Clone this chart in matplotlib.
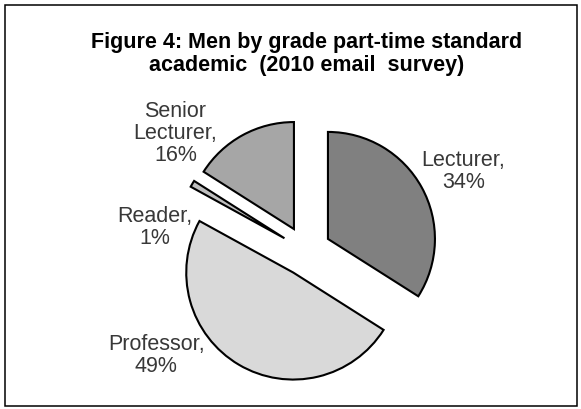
import matplotlib
matplotlib.use("Agg")
import matplotlib.pyplot as plt
from matplotlib.patches import Rectangle

plt.rcParams['font.family'] = ['Liberation Sans', 'DejaVu Sans']

# data
grades = ['Lecturer', 'Professor', 'Reader', 'Senior\nLecturer']
shares = [34, 49, 1, 16]
colors = ['#808080', '#d9d9d9', '#bfbfbf', '#a6a6a6']
title = 'Figure 4: Men by grade part-time standard\nacademic  (2010 email  survey)'

# label centres in axes data units (pie radius = 1)
label_pos = [(1.47, 0.74), (-1.40, -0.98), (-1.41, 0.22), (-1.22, 1.10)]


def draw():
    fig = plt.figure(figsize=(5.81, 4.09), dpi=100)
    ax = fig.add_axes([0, 0, 1, 1])

    labels = ['%s,\n%d%%' % (g, s) for g, s in zip(grades, shares)]
    wedges, texts = ax.pie(shares, labels=labels, colors=colors,
                           startangle=90, counterclock=False,
                           explode=[0.234] * len(shares), radius=1,
                           wedgeprops=dict(edgecolor='black', linewidth=1.5))

    # move the labels where the original has them
    for t, pos in zip(texts, label_pos):
        t.set_position(pos)
        t.set_ha('center')
        t.set_va('center')
        t.set_fontsize(15.5)
        t.set_color('#383838')
        t.set_linespacing(1.08)

    ax.set_xlim(-306 / 107, 275 / 107)
    ax.set_ylim(-158 / 107, 251 / 107)
    ax.axis('off')

    fig.text(0.528, 0.868, title, ha='center', va='center',
             fontsize=15.5, fontweight='bold', linespacing=1.15)

    # outer frame
    fig.patches.append(Rectangle((5 / 581, 3 / 409), 572 / 581, 401 / 409,
                                 transform=fig.transFigure, fill=False,
                                 edgecolor='black', linewidth=1.1))

    fig.savefig('out.png', dpi=100)


if __name__ == '__main__':
    draw()
